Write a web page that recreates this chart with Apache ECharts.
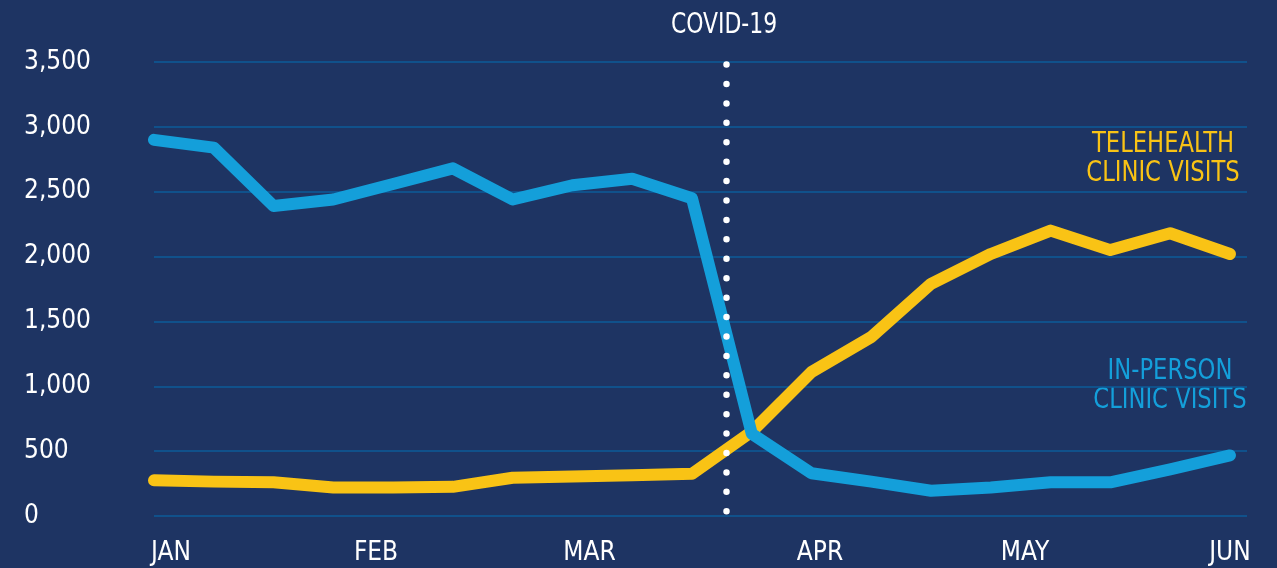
<!DOCTYPE html>
<html>
<head>
<meta charset="utf-8">
<title>Clinic visits</title>
<script src="https://cdn.jsdelivr.net/npm/echarts@6/dist/echarts.min.js"></script>
<style>
  html, body { margin: 0; padding: 0; background: #1e3463; }
  #chart { width: 1277px; height: 568px; }
</style>
</head>
<body>
<div id="chart"></div>
<script>
  // weekly data, x in days from the start of the axis
  const weekDays = [0, 7, 14, 21, 28, 35, 42, 49, 56, 63, 70, 77, 84, 91, 98, 105, 112, 119, 126];
  const inPerson = [2900, 2840, 2390, 2440, 2560, 2680, 2440, 2550, 2600, 2450, 635, 330, 265, 195, 220, 260, 260, 360, 467];
  const telehealth = [275, 265, 260, 220, 220, 225, 295, 305, 315, 325, 650, 1110, 1380, 1790, 2020, 2200, 2050, 2180, 2020];

  const months = ['JAN', 'FEB', 'MAR', 'APR', 'MAY', 'JUN'];
  const monthDays = [2, 26, 51, 78, 102, 126];
  const dayCount = 129;
  const covidDay = 67;

  const yMin = 0;
  const yMax = 3500;
  const yStep = 500;

  const FONT = "'Liberation Sans Narrow', 'DejaVu Sans Condensed', 'Roboto', sans-serif";
  const BLUE = '#149fda';
  const YELLOW = '#f9c315';

  const dayLabels = [];
  for (let d = 0; d < dayCount; d++) {
    const m = monthDays.indexOf(d);
    dayLabels.push(m >= 0 ? months[m] : '');
  }

  const chart = echarts.init(document.getElementById('chart'));
  chart.setOption({
    backgroundColor: '#1e3463',
    animation: false,
    grid: { left: 154, right: 30, top: 62, bottom: 52 },
    xAxis: {
      type: 'category',
      data: dayLabels,
      boundaryGap: false,
      axisLine: { show: false },
      axisTick: { show: false },
      splitLine: { show: false },
      axisLabel: {
        interval: 0,
        color: '#ffffff',
        fontFamily: FONT,
        fontSize: 26,
        margin: 24
      }
    },
    yAxis: {
      type: 'value',
      min: yMin,
      max: yMax,
      interval: yStep,
      axisLine: { show: false },
      axisTick: { show: false },
      splitLine: { lineStyle: { color: '#0c5b98', width: 1.5 } },
      axisLabel: {
        align: 'left',
        margin: 130,
        color: '#ffffff',
        fontFamily: FONT,
        fontSize: 26,
        formatter: v => v.toLocaleString('en-US')
      }
    },
    series: [
      {
        name: 'Telehealth clinic visits',
        type: 'line',
        data: weekDays.map((d, i) => [d, telehealth[i]]),
        symbol: 'none',
        lineStyle: { color: YELLOW, width: 12, cap: 'round', join: 'round' },
        z: 2
      },
      {
        name: 'In-person clinic visits',
        type: 'line',
        data: weekDays.map((d, i) => [d, inPerson[i]]),
        symbol: 'none',
        lineStyle: { color: BLUE, width: 12, cap: 'round', join: 'round' },
        z: 3
      },
      {
        name: 'COVID-19',
        type: 'line',
        data: [],
        z: 5,
        markLine: {
          silent: true,
          symbol: ['none', 'none'],
          label: { show: false },
          lineStyle: { color: '#ffffff', width: 6.5, type: [0, 19.42], cap: 'round' },
          data: [[{ coord: [covidDay, 3480] }, { coord: [covidDay, 29] }]]
        }
      }
    ],
    graphic: [
      {
        type: 'text', x: 724, y: 26, scaleX: 0.87,
        style: {
          text: 'COVID-19', fill: '#ffffff', font: '28px ' + FONT,
          textAlign: 'center', textVerticalAlign: 'middle'
        }
      },
      {
        type: 'text', x: 1163, y: 159.5, scaleX: 0.9,
        style: {
          text: 'TELEHEALTH\nCLINIC VISITS', fill: YELLOW, font: '28px ' + FONT,
          lineHeight: 29, textAlign: 'center', textVerticalAlign: 'middle'
        }
      },
      {
        type: 'text', x: 1170, y: 386.5, scaleX: 0.9,
        style: {
          text: 'IN-PERSON\nCLINIC VISITS', fill: BLUE, font: '28px ' + FONT,
          lineHeight: 29, textAlign: 'center', textVerticalAlign: 'middle'
        }
      }
    ]
  });
</script>
</body>
</html>
